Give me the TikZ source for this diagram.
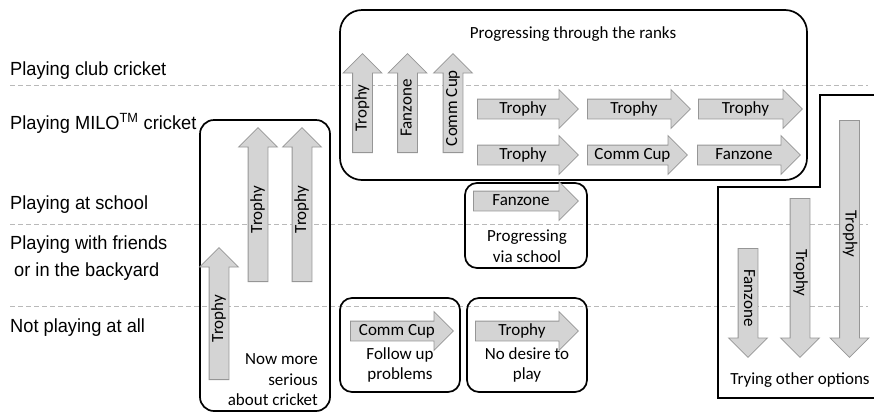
\documentclass[tikz,border=0pt]{standalone}
\usepackage{fontspec}
\setmainfont{Carlito}
\newfontfamily\arialfont[FakeStretch=0.96]{Liberation Sans}
\usetikzlibrary{shapes.arrows,positioning}
\definecolor{arrfill}{RGB}{212,212,212}
\definecolor{arrline}{RGB}{150,150,150}
\definecolor{rowline}{RGB}{185,185,185}
\tikzset{
  prog/.style={single arrow, draw=arrline, fill=arrfill, line width=0.8pt,
    single arrow head extend=9.5pt, text height=12pt, text depth=4pt,
    inner ysep=1.5pt, inner xsep=2pt, font=\fontsize{17}{20}\selectfont, anchor=tail},
  level/.style={anchor=base west, font=\arialfont\fontsize{19}{22}\selectfont, inner sep=0pt},
  group/.style={line width=1.7pt, rounded corners=12pt},
  note/.style={font=\fontsize{17}{20.5}\selectfont, align=center, inner sep=0pt},
  rowsep/.style={rowline, dash pattern=on 5pt off 3pt, line width=0.8pt}
}

\begin{document}
\begin{tikzpicture}[x=1pt,y=-1pt]
\useasboundingbox (0,0) rectangle (874,413);
% Levels
\foreach \yy in {85,224,306} \draw[rowsep] (10,\yy) -- (868,\yy);
\node[level] (club) at (10,75) {Playing club cricket};
\node[level] (milo) at (10,129) {Playing MILO\textsuperscript{TM} cricket};
\node[level] (school) at (10,209) {Playing at school};
\node[level] (friends) at (10,249) {Playing with friends};
\node[level] (backyard) at (14,276) {or in the backyard};
\node[level] (none) at (10,332) {Not playing at all};
% Through the ranks
\draw[group, rounded corners=22pt] (340,10) rectangle (807,180);
\node[note] (ranks) at (573,34) {Progressing through the ranks};
\node[prog, rotate=90, minimum height=99pt] (up1) at (362.5,153) {Trophy};
\node[prog, rotate=90, minimum height=99pt] (up2) at (407.5,153) {Fanzone};
\node[prog, rotate=90, minimum height=99pt] (up3) at (453,153) {Comm Cup};
\node[prog, minimum height=101pt] (ra1) at (477,109) {Trophy};
\node[prog, minimum height=103pt] (ra2) at (587,109) {Trophy};
\node[prog, minimum height=104pt] (ra3) at (698,109) {Trophy};
\node[prog, minimum height=101pt] (rb1) at (477,155) {Trophy};
\node[prog, minimum height=100pt] (rb2) at (587,155) {Comm Cup};
\node[prog, minimum height=103pt] (rb3) at (697,155) {Fanzone};
% Via school
\draw[group] (465,183) rectangle (587,268);
\node[prog, minimum height=105pt] (sc) at (473,201) {Fanzone};
\node[note] (viaschool) at (527,246) {Progressing\\via school};
% More serious
\draw[group, rounded corners=14pt] (200,120) rectangle (330,411);
\node[prog, rotate=90, minimum height=132pt] (se1) at (219,380) {Trophy};
\node[prog, rotate=90, minimum height=154pt] (se2) at (258,282) {Trophy};
\node[prog, rotate=90, minimum height=154pt] (se3) at (302,282) {Trophy};
\node[note, align=right, anchor=east] (serious) at (318,380) {Now more\\serious\\about cricket};
% Follow up / no desire
\draw[group] (340,298) rectangle (460,392);
\node[prog, minimum height=103pt] (fu) at (350,331) {Comm Cup};
\node[note] (followup) at (400,365) {Follow up\\problems};
\draw[group] (467,298) rectangle (587,392);
\node[prog, minimum height=103pt] (nd) at (475,331) {Trophy};
\node[note] (nodesire) at (527,365) {No desire to\\play};
% Other options
\draw[line width=1.7pt] (878,95) -- (820,95) -- (820,187) -- (718,187) -- (718,398) -- (878,398);
\node[prog, rotate=-90, minimum height=109pt] (dn1) at (748,248) {Fanzone};
\node[prog, rotate=-90, minimum height=159pt] (dn2) at (800,198) {Trophy};
\node[prog, rotate=-90, minimum height=237pt] (dn3) at (849.5,120) {Trophy};
\node[note] (other) at (800,380) {Trying other options};
\end{tikzpicture}
\end{document}
